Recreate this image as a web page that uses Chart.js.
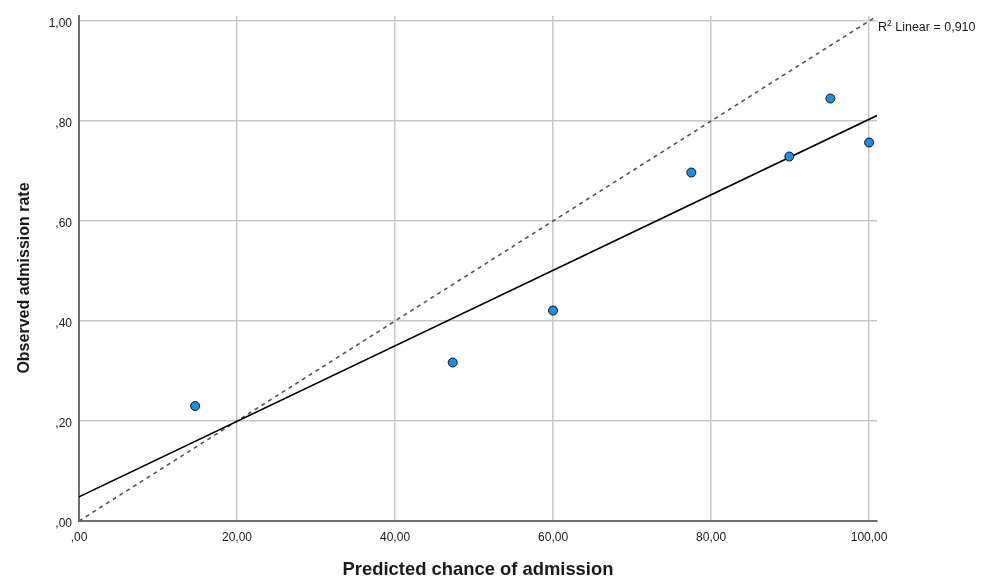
<!DOCTYPE html>
<html>
<head>
<meta charset="utf-8">
<script src="https://cdn.jsdelivr.net/npm/chart.js@4.4.1/dist/chart.umd.min.js"></script>
<style>
  html, body { margin: 0; padding: 0; background: #ffffff; }
  canvas { display: block; }
</style>
</head>
<body>
<canvas id="c" width="988" height="579"></canvas>
<script>
// ---- data ----
const predicted = [14.7, 47.3, 60.0, 77.5, 89.9, 95.1, 100.0];
const observed  = [0.230, 0.317, 0.421, 0.697, 0.729, 0.845, 0.757];
const xTicks = [0, 20, 40, 60, 80, 100];
const yTicks = [0, 0.2, 0.4, 0.6, 0.8, 1.0];
const xTitle = "Predicted chance of admission";
const yTitle = "Observed admission rate";
const r2Text = " Linear = 0,910";

// ---- derived: least squares fit line ----
const n = predicted.length;
const mx = predicted.reduce((a, b) => a + b, 0) / n;
const my = observed.reduce((a, b) => a + b, 0) / n;
let sxy = 0, sxx = 0;
for (let i = 0; i < n; i++) { sxy += (predicted[i] - mx) * (observed[i] - my); sxx += (predicted[i] - mx) ** 2; }
const slope = sxy / sxx;
const intercept = my - slope * mx;

const X_MAX = 101, Y_MAX = 1.01;
const FONT = '"Liberation Sans", Arial, Helvetica, sans-serif';

function fmt(v) {
  let s = Number(v).toFixed(2).replace('.', ',');
  if (s.startsWith('0,')) s = s.substring(1);
  return s;
}

const textPlugin = {
  id: 'texts',
  afterDraw(chart) {
    const ctx = chart.ctx;
    const a = chart.chartArea;
    ctx.save();
    ctx.fillStyle = '#1a1a1a';
    ctx.font = 'bold 18.4px ' + FONT;
    ctx.textAlign = 'center';
    ctx.textBaseline = 'alphabetic';
    ctx.fillText(xTitle, (a.left + a.right) / 2, 575);
    ctx.font = 'bold 16px ' + FONT;
    ctx.translate(29, 278);
    ctx.rotate(-Math.PI / 2);
    ctx.fillText(yTitle, 0, 0);
    ctx.restore();

    // R² label
    ctx.save();
    ctx.fillStyle = '#1a1a1a';
    ctx.textAlign = 'left';
    ctx.textBaseline = 'alphabetic';
    let x = a.right + 1, y = 31;
    ctx.font = '12.5px ' + FONT;
    ctx.fillText('R', x, y);
    x += ctx.measureText('R').width;
    ctx.font = '8.5px ' + FONT;
    ctx.fillText('2', x, y - 5);
    x += ctx.measureText('2').width;
    ctx.font = '12.5px ' + FONT;
    ctx.fillText(r2Text, x, y);
    ctx.restore();
  }
};

new Chart(document.getElementById('c'), {
  type: 'scatter',
  data: {
    datasets: [
      {
        type: 'scatter',
        data: predicted.map((v, i) => ({ x: v, y: observed[i] })),
        backgroundColor: '#1a8fe6',
        borderColor: '#111111',
        borderWidth: 1,
        pointRadius: 4.5,
        pointHoverRadius: 4.5,
        order: 0
      },
      {
        type: 'line',
        data: [{ x: 0, y: intercept }, { x: X_MAX, y: intercept + slope * X_MAX }],
        borderColor: '#000000',
        borderWidth: 1.6,
        pointRadius: 0,
        fill: false,
        order: 1
      },
      {
        type: 'line',
        data: [{ x: 0, y: 0 }, { x: X_MAX, y: Y_MAX }],
        borderColor: '#555555',
        borderWidth: 1.6,
        borderDash: [4, 4],
        pointRadius: 0,
        fill: false,
        order: 2
      }
    ]
  },
  options: {
    responsive: false,
    devicePixelRatio: 1,
    animation: false,
    events: [],
    layout: { padding: { top: 16, right: 111, left: 0, bottom: 0 } },
    plugins: { legend: { display: false }, tooltip: { enabled: false } },
    scales: {
      x: {
        type: 'linear',
        min: 0, max: X_MAX,
        afterBuildTicks(s) { s.ticks = xTicks.map(v => ({ value: v })); },
        afterFit(s) { s.height = 58; },
        ticks: {
          callback: v => fmt(v),
          font: { family: FONT, size: 12 },
          color: '#1a1a1a',
          padding: 9,
          maxRotation: 0,
          autoSkip: false
        },
        grid: { color: '#c8c8c8', lineWidth: 1.5, drawTicks: false },
        border: { color: '#6e6e6e', width: 2 }
      },
      y: {
        type: 'linear',
        min: 0, max: Y_MAX,
        afterBuildTicks(s) { s.ticks = yTicks.map(v => ({ value: v })); },
        afterFit(s) { s.width = 79; },
        ticks: {
          callback: v => fmt(v),
          font: { family: FONT, size: 12 },
          color: '#1a1a1a',
          padding: 7,
          labelOffset: 3,
          autoSkip: false
        },
        grid: { color: '#c8c8c8', lineWidth: 1.5, drawTicks: false },
        border: { color: '#6e6e6e', width: 2 }
      }
    }
  },
  plugins: [textPlugin]
});
</script>
</body>
</html>
